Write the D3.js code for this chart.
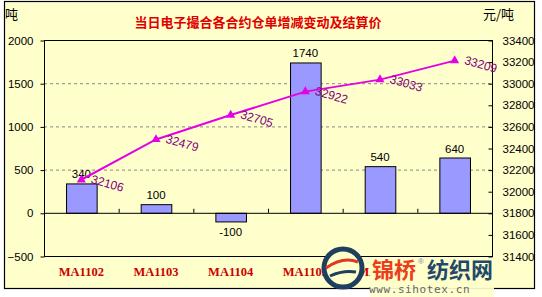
<!DOCTYPE html>
<html><head><meta charset="utf-8">
<script src="https://cdn.jsdelivr.net/npm/d3@7"></script>
<style>body{margin:0;background:#fff}svg{display:block}</style>
</head><body><svg id="c" width="542" height="297"></svg>
<script>
const categories = ["MA1102","MA1103","MA1104","MA1105","MA1106","MA1107"];
const warrantChange = [340, 100, -100, 1740, 540, 640];
const settlePrice = [32106, 32479, 32705, 32922, 33033, 33209];
const leftTicks = [-500, 0, 500, 1000, 1500, 2000];
const rightTicks = [31400, 31600, 31800, 32000, 32200, 32400, 32600, 32800, 33000, 33200, 33400];
const title = "当日电子撮合各合约仓单增减变动及结算价";

const svg = d3.select("#c");
const L = 44, R = 492, T = 40, B = 256;
const bg = "#FFFFCC";
svg.append("rect").attr("x",4.5).attr("y",1.5).attr("width",530).attr("height",287)
  .attr("fill",bg).attr("stroke","#000").attr("stroke-width",1.2);

const x = d3.scaleBand().domain(categories).range([L,R]);
const yL = d3.scaleLinear().domain([-500,2000]).range([B,T]);
const yR = d3.scaleLinear().domain([31400,33400]).range([B,T]);

// gridlines
svg.append("g").selectAll("line").data([500,1000,1500]).join("line")
  .attr("x1",L).attr("x2",R).attr("y1",d=>yL(d)+0.5).attr("y2",d=>yL(d)+0.5)
  .attr("stroke","#888").attr("stroke-dasharray","3,3");

// frame
svg.append("rect").attr("x",L+0.5).attr("y",T+0.5).attr("width",R-L).attr("height",B-T)
  .attr("fill","none").attr("stroke","#000");

// left axis
const la = svg.append("g").attr("transform",`translate(${L+0.5},0.5)`)
  .call(d3.axisLeft(yL).tickValues(leftTicks).tickSize(4).tickPadding(7).tickFormat(d3.format("d")));
la.select(".domain").remove();
la.selectAll("text").attr("font-family","Liberation Sans, Arial").attr("font-size","11.5px").attr("fill","#000");

// right axis
const ra = svg.append("g").attr("transform",`translate(${R+0.5},0.5)`)
  .call(d3.axisRight(yR).tickValues(rightTicks).tickSize(-4).tickPadding(10).tickFormat(d3.format("d")));
ra.select(".domain").remove();
ra.selectAll("text").attr("font-family","Liberation Sans, Arial").attr("font-size","11.5px").attr("fill","#000");

// bars
const bw = x.bandwidth()*0.41;
svg.append("g").selectAll("rect").data(categories).join("rect")
  .attr("x",(d)=>x(d)+x.bandwidth()/2-bw/2+0.5)
  .attr("y",(d,i)=>yL(Math.max(0,warrantChange[i]))+0.5)
  .attr("width",bw)
  .attr("height",(d,i)=>Math.abs(yL(warrantChange[i])-yL(0)))
  .attr("fill","#9999FF").attr("stroke","#000").attr("stroke-width",1);

// zero axis line with ticks
svg.append("line").attr("x1",L).attr("x2",R).attr("y1",yL(0)+0.5).attr("y2",yL(0)+0.5).attr("stroke","#000");
svg.append("g").selectAll("line").data(categories.slice(1)).join("line")
  .attr("x1",d=>x(d)+0.5).attr("x2",d=>x(d)+0.5).attr("y1",yL(0)-4).attr("y2",yL(0))
  .attr("stroke","#000");

// bar labels
svg.append("g").selectAll("text").data(categories).join("text")
  .attr("x",d=>x(d)+x.bandwidth()/2)
  .attr("y",(d,i)=>warrantChange[i]>=0 ? yL(warrantChange[i])-5 : yL(warrantChange[i])+15)
  .attr("text-anchor","middle").attr("font-family","Liberation Sans, Arial").attr("font-size","11.5px")
  .text((d,i)=>warrantChange[i]);

// line
const line = d3.line().x((d,i)=>x(categories[i])+x.bandwidth()/2).y(d=>yR(d));
svg.append("path").attr("d",line(settlePrice)).attr("fill","none").attr("stroke","#E600E6").attr("stroke-width",2);
svg.append("g").selectAll("path").data(settlePrice).join("path")
  .attr("d",d3.symbol(d3.symbolTriangle,36))
  .attr("transform",(d,i)=>`translate(${x(categories[i])+x.bandwidth()/2},${yR(d)})`)
  .attr("fill","#E600E6");
svg.append("g").selectAll("text").data(settlePrice).join("text")
  .attr("transform",(d,i)=>`translate(${x(categories[i])+x.bandwidth()/2+9},${yR(d)+3}) rotate(16)`)
  .attr("font-family","Liberation Sans, Arial").attr("font-size","12px").attr("fill","#800080")
  .text(d=>d);

// category labels
svg.append("g").selectAll("text").data(categories).join("text")
  .attr("x",d=>x(d)+x.bandwidth()/2).attr("y",276)
  .attr("text-anchor","middle").attr("font-family","Liberation Serif, Times New Roman").attr("font-weight","bold")
  .attr("font-size","12.5px").attr("fill","#CC0000").text(d=>d);

// titles
svg.append("text").attr("x",258).attr("y",27).attr("text-anchor","middle")
  .attr("font-family","Noto Sans CJK SC").attr("font-weight","bold").attr("font-size","13px").attr("fill","#E00000").text(title);
svg.append("text").attr("x",5).attr("y",19).attr("font-family","Noto Sans CJK SC").attr("font-size","13px").text("吨");
svg.append("text").attr("x",483).attr("y",19).attr("font-family","Noto Sans CJK SC").attr("font-size","13px").text("元/吨");

// watermark
const wm = svg.append("g");
wm.append("rect").attr("x",370).attr("y",258).attr("width",124).attr("height",39).attr("fill",bg).attr("opacity",0.92);
wm.append("circle").attr("cx",343).attr("cy",268).attr("r",19).attr("fill",bg).attr("stroke","#1E3F5E").attr("stroke-width",5);
wm.append("path").attr("d","M326,268 Q343,256 358,262").attr("fill","none").attr("stroke","#E03A1E").attr("stroke-width",3);
wm.append("path").attr("d","M330,276 Q343,270 356,272").attr("fill","none").attr("stroke","#1E3F5E").attr("stroke-width",3);
wm.append("text").attr("x",372).attr("y",278).attr("font-family","Noto Sans CJK SC").attr("font-weight","bold")
  .attr("font-size","22px").attr("fill","#E8401C").text("锦桥");
wm.append("text").attr("x",418).attr("y",264).attr("font-family","Liberation Sans").attr("font-size","8px").attr("fill","#888").text("®");
wm.append("text").attr("x",427).attr("y",278).attr("font-family","Noto Sans CJK SC").attr("font-weight","bold")
  .attr("font-size","22px").attr("fill","#1E4A6A").text("纺织网");
wm.append("text").attr("x",369).attr("y",293).attr("font-family","DejaVu Sans Mono").attr("font-size","11px")
  .attr("letter-spacing","0.6px").attr("fill","#666").text("www.sihotex.cn");
</script></body></html>
